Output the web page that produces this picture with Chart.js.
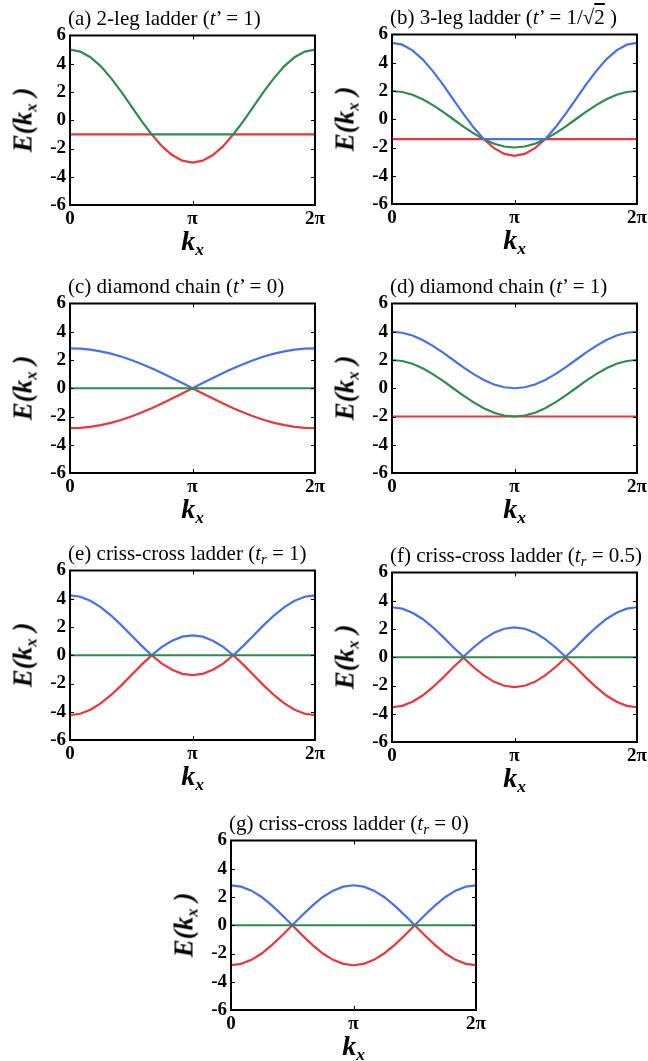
<!DOCTYPE html>
<html>
<head>
<meta charset="utf-8">
<title>E(kx) band structures</title>
<script src="https://cdn.jsdelivr.net/npm/chart.js@4.4.1/dist/chart.umd.min.js"></script>
<style>
  html, body { margin: 0; padding: 0; background: #fff; }
  body {
    width: 648px; height: 1061px; position: relative; overflow: hidden;
    font-family: "Liberation Serif", "Times New Roman", serif; color: #000;
  }
  canvas { position: absolute; }
  .ptitle { position: absolute; font-size: 21px; line-height: 24px; white-space: nowrap; }
  .xlab, .ylab { position: absolute; font-size: 28px; font-style: italic; font-weight: bold; line-height: 1; white-space: nowrap; }
  .xlab { transform: translate(-50%, -50%); }
  .ylab { font-size: 27px; transform: translate(-50%, -50%) rotate(-90deg); }
  sub { font-size: 62%; vertical-align: -0.28em; line-height: 0; }
  .ptitle sub { font-size: 70%; }
  .ov { text-decoration: overline; }
</style>
</head>
<body>
<script>
// ===================================================================
// Band structures E(kx) — seven panels
// kx is given in units of pi (0 .. 2)
// ===================================================================

const kx = [0, 0.0833, 0.1667, 0.25, 0.3333, 0.4167, 0.5, 0.5833, 0.6667, 0.75, 0.8333, 0.9167, 1,
            1.0833, 1.1667, 1.25, 1.3333, 1.4167, 1.5, 1.5833, 1.6667, 1.75, 1.8333, 1.9167, 2];

const xTickLabels = ['0', 'π', '2π'];
const yTicks = [-6, -4, -2, 0, 2, 4, 6];

// (a) 2-leg ladder
const aGreen = [5, 4.86, 4.46, 3.83, 3, 2.04, 1, -0.04, -1, -1, -1, -1, -1,
                -1, -1, -1, -1, -0.04, 1, 2.04, 3, 3.83, 4.46, 4.86, 5];
const aRed   = [-1, -1, -1, -1, -1, -1, -1, -1, -1, -1.83, -2.46, -2.86, -3,
                -2.86, -2.46, -1.83, -1, -1, -1, -1, -1, -1, -1, -1, -1];

// (b) 3-leg ladder
const bBlue  = [5.41, 5.28, 4.88, 4.24, 3.41, 2.45, 1.41, 0.38, -0.59, -1.41, -1.41, -1.41, -1.41,
                -1.41, -1.41, -1.41, -0.59, 0.38, 1.41, 2.45, 3.41, 4.24, 4.88, 5.28, 5.41];
const bGreen = [2, 1.93, 1.73, 1.41, 1, 0.52, 0, -0.52, -1, -1.41, -1.73, -1.93, -2,
                -1.93, -1.73, -1.41, -1, -0.52, 0, 0.52, 1, 1.41, 1.73, 1.93, 2];
const bRed   = [-1.41, -1.41, -1.41, -1.41, -1.41, -1.41, -1.41, -1.41, -1.41, -1.41, -2.05, -2.45, -2.59,
                -2.45, -2.05, -1.41, -1.41, -1.41, -1.41, -1.41, -1.41, -1.41, -1.41, -1.41, -1.41];

// (c) diamond chain, t' = 0
const cBlue  = [2.83, 2.81, 2.73, 2.61, 2.45, 2.25, 2, 1.72, 1.41, 1.08, 0.73, 0.37, 0,
                0.37, 0.73, 1.08, 1.41, 1.72, 2, 2.25, 2.45, 2.61, 2.73, 2.81, 2.83];
const cRed   = [-2.83, -2.81, -2.73, -2.61, -2.45, -2.25, -2, -1.72, -1.41, -1.08, -0.73, -0.37, 0,
                -0.37, -0.73, -1.08, -1.41, -1.72, -2, -2.25, -2.45, -2.61, -2.73, -2.81, -2.83];

// (d) diamond chain, t' = 1
const dBlue  = [4, 3.93, 3.73, 3.41, 3, 2.52, 2, 1.48, 1, 0.59, 0.27, 0.07, 0,
                0.07, 0.27, 0.59, 1, 1.48, 2, 2.52, 3, 3.41, 3.73, 3.93, 4];
const dGreen = [2, 1.93, 1.73, 1.41, 1, 0.52, 0, -0.52, -1, -1.41, -1.73, -1.93, -2,
                -1.93, -1.73, -1.41, -1, -0.52, 0, 0.52, 1, 1.41, 1.73, 1.93, 2];
const dRed   = [-2, -2, -2, -2, -2, -2, -2, -2, -2, -2, -2, -2, -2,
                -2, -2, -2, -2, -2, -2, -2, -2, -2, -2, -2, -2];

// flat band at zero (c, e, f, g)
const zeroBand = [0, 0, 0, 0, 0, 0, 0, 0, 0, 0, 0, 0, 0,
                  0, 0, 0, 0, 0, 0, 0, 0, 0, 0, 0, 0];

// (e) criss-cross ladder, tr = 1
const eBlue  = [4.24, 4.14, 3.86, 3.41, 2.83, 2.15, 1.41, 0.68, 0, 0.59, 1.03, 1.32, 1.41,
                1.32, 1.03, 0.59, 0, 0.68, 1.41, 2.15, 2.83, 3.41, 3.86, 4.14, 4.24];
const eRed   = [-4.24, -4.14, -3.86, -3.41, -2.83, -2.15, -1.41, -0.68, 0, -0.59, -1.03, -1.32, -1.41,
                -1.32, -1.03, -0.59, 0, -0.68, -1.41, -2.15, -2.83, -3.41, -3.86, -4.14, -4.24];

// (f) criss-cross ladder, tr = 0.5
const fBlue  = [3.54, 3.44, 3.15, 2.71, 2.12, 1.44, 0.71, 0.03, 0.71, 1.29, 1.74, 2.02, 2.12,
                2.02, 1.74, 1.29, 0.71, 0.03, 0.71, 1.44, 2.12, 2.71, 3.15, 3.44, 3.54];
const fRed   = [-3.54, -3.44, -3.15, -2.71, -2.12, -1.44, -0.71, -0.03, -0.71, -1.29, -1.74, -2.02, -2.12,
                -2.02, -1.74, -1.29, -0.71, -0.03, -0.71, -1.44, -2.12, -2.71, -3.15, -3.44, -3.54];

// (g) criss-cross ladder, tr = 0
const gBlue  = [2.83, 2.73, 2.45, 2, 1.41, 0.73, 0, 0.73, 1.41, 2, 2.45, 2.73, 2.83,
                2.73, 2.45, 2, 1.41, 0.73, 0, 0.73, 1.41, 2, 2.45, 2.73, 2.83];
const gRed   = [-2.83, -2.73, -2.45, -2, -1.41, -0.73, 0, -0.73, -1.41, -2, -2.45, -2.73, -2.83,
                -2.73, -2.45, -2, -1.41, -0.73, 0, -0.73, -1.41, -2, -2.45, -2.73, -2.83];

const BLUE = '#4a6fe3';
const GREEN = '#2e8a4e';
const RED = '#e8373c';

// plot-area position of each panel (left, top of the frame)
const panels = [
    { left: 70,  top: 34,  title: '(a) 2-leg ladder (<i>t</i>’ = 1)',
      series: [[aGreen, GREEN], [aRed, RED]] },
    { left: 392, top: 33,  title: '(b) 3-leg ladder (<i>t</i>’ = 1/√<span class="ov">2</span> )',
      series: [[bBlue, BLUE], [bGreen, GREEN], [bRed, RED]] },
    { left: 70,  top: 302, title: '(c) diamond chain (<i>t</i>’ = 0)',
      series: [[zeroBand, GREEN], [cBlue, BLUE], [cRed, RED]] },
    { left: 392, top: 302, title: '(d) diamond chain (<i>t</i>’ = 1)',
      series: [[dBlue, BLUE], [dGreen, GREEN], [dRed, RED]] },
    { left: 70,  top: 569, title: '(e) criss-cross ladder (<i>t<sub>r</sub></i> = 1)',
      series: [[zeroBand, GREEN], [eBlue, BLUE], [eRed, RED]] },
    { left: 392, top: 571, title: '(f) criss-cross ladder (<i>t<sub>r</sub></i> = 0.5)',
      series: [[zeroBand, GREEN], [fBlue, BLUE], [fRed, RED]] },
    { left: 231, top: 839, title: '(g) criss-cross ladder (<i>t<sub>r</sub></i> = 0)',
      series: [[zeroBand, GREEN], [gBlue, BLUE], [gRed, RED]] },
];

const PLOT_W = 245, PLOT_H = 171;
const PAD_L = 44, PAD_T = 12, PAD_R = 16, PAD_B = 30;

// frame + small inward ticks on all four sides
const framePlugin = {
    id: 'frame',
    afterDatasetsDraw(chart) {
        const { ctx, chartArea: a, scales: { x, y } } = chart;
        ctx.save();
        ctx.strokeStyle = '#000';
        ctx.lineWidth = 1;
        ctx.beginPath();
        yTicks.slice(1, -1).forEach(v => {
            const py = Math.round(y.getPixelForValue(v)) + 0.5;
            ctx.moveTo(a.left, py); ctx.lineTo(a.left + 4, py);
            ctx.moveTo(a.right, py); ctx.lineTo(a.right - 4, py);
        });
        const px = Math.round(x.getPixelForValue(1)) + 0.5;
        ctx.moveTo(px, a.bottom); ctx.lineTo(px, a.bottom - 4);
        ctx.moveTo(px, a.top); ctx.lineTo(px, a.top + 4);
        ctx.stroke();
        ctx.lineWidth = 2;
        ctx.strokeRect(a.left, a.top, a.right - a.left, a.bottom - a.top);
        ctx.restore();
    }
};

const tickFont = { family: '"Liberation Serif", serif', size: 19, weight: 'bold', lineHeight: 1 };

function makePanel(p) {
    const cv = document.createElement('canvas');
    cv.width = PAD_L + PLOT_W + PAD_R;
    cv.height = PAD_T + PLOT_H + PAD_B;
    cv.style.left = (p.left - PAD_L) + 'px';
    cv.style.top = (p.top - PAD_T) + 'px';
    document.body.appendChild(cv);

    new Chart(cv.getContext('2d'), {
        type: 'line',
        data: {
            datasets: p.series.map(([vals, color]) => ({
                data: kx.map((k, i) => ({ x: k, y: vals[i] })),
                borderColor: color,
                borderWidth: 2.2,
                pointRadius: 0,
                tension: 0,
                fill: false,
            }))
        },
        options: {
            responsive: false,
            animation: false,
            devicePixelRatio: 1,
            layout: { padding: { left: 0, top: PAD_T, right: PAD_R, bottom: 0 } },
            plugins: { legend: { display: false }, tooltip: { enabled: false } },
            scales: {
                x: {
                    type: 'linear', min: 0, max: 2,
                    grid: { display: false, drawTicks: false },
                    border: { display: false },
                    ticks: {
                        stepSize: 1, color: '#000', font: tickFont, padding: 5,
                        maxRotation: 0,
                        callback: (v) => xTickLabels[v] ?? ''
                    },
                    afterFit: (s) => { s.height = PAD_B; }
                },
                y: {
                    min: -6, max: 6,
                    grid: { display: false, drawTicks: false },
                    border: { display: false },
                    ticks: { stepSize: 2, color: '#000', font: tickFont, padding: 4 },
                    afterFit: (s) => { s.width = PAD_L; }
                }
            }
        },
        plugins: [framePlugin]
    });

    const t = document.createElement('div');
    t.className = 'ptitle';
    t.innerHTML = p.title;
    t.style.left = (p.left - 2) + 'px';
    t.style.top = (p.top - 28) + 'px';
    document.body.appendChild(t);

    const xl = document.createElement('div');
    xl.className = 'xlab';
    xl.innerHTML = 'k<sub>x</sub>';
    xl.style.left = (p.left + PLOT_W / 2) + 'px';
    xl.style.top = (p.top + 207) + 'px';
    document.body.appendChild(xl);

    const yl = document.createElement('div');
    yl.className = 'ylab';
    yl.innerHTML = 'E(k<sub>x</sub> )';
    yl.style.left = (p.left - 47) + 'px';
    yl.style.top = (p.top + PLOT_H / 2) + 'px';
    document.body.appendChild(yl);
}

panels.forEach(makePanel);
</script>
</body>
</html>
